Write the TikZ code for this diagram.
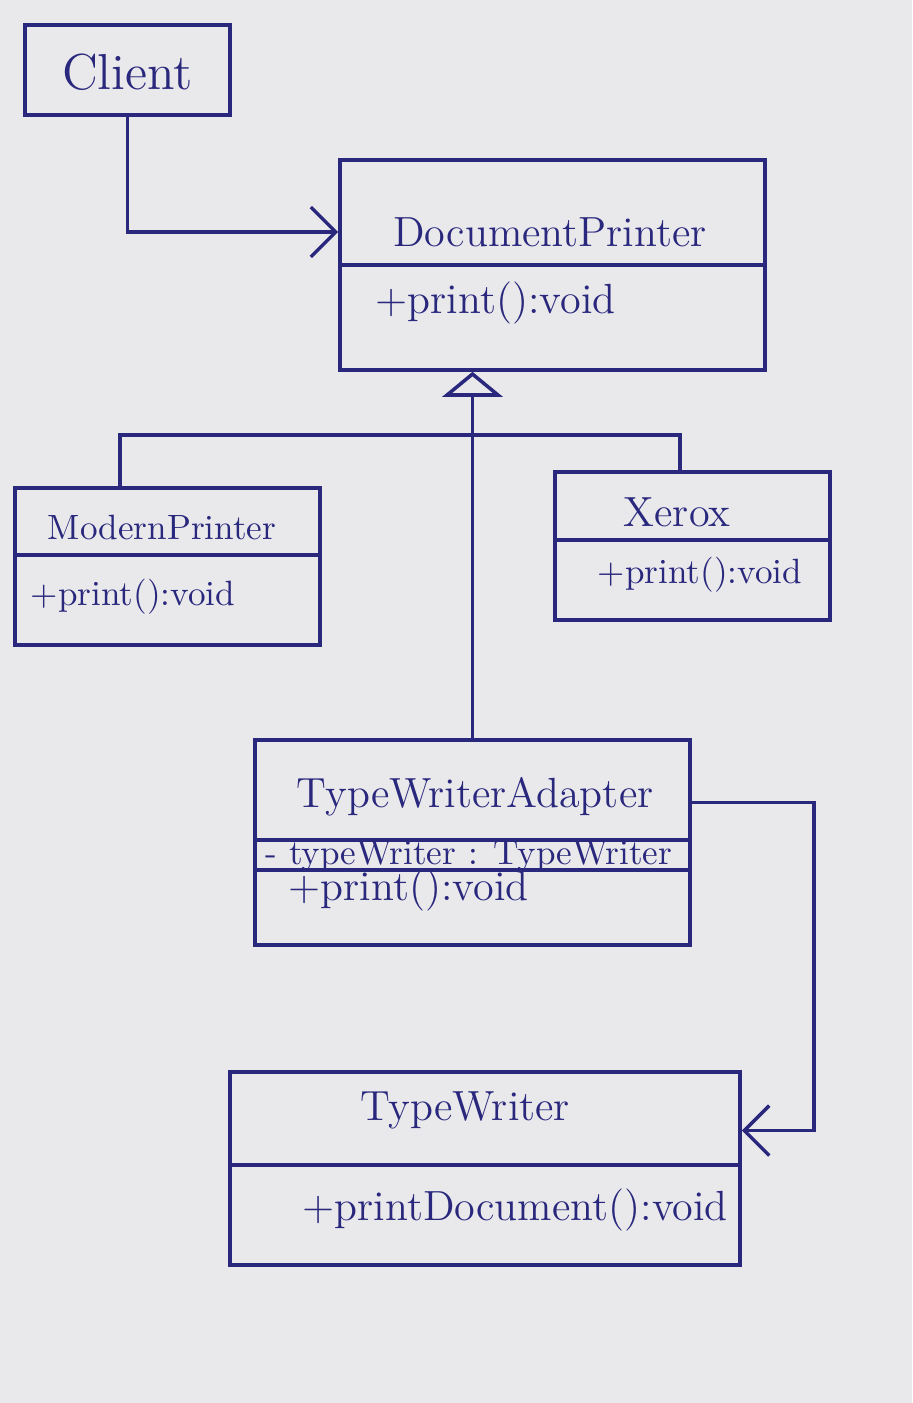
\documentclass[tikz,border=0pt]{standalone}
\usepackage{tikz}
\usetikzlibrary{arrows.meta}
\usetikzlibrary{calc}
\definecolor{ink}{RGB}{42,40,125}
\definecolor{paper}{RGB}{233,233,236}
\tikzstyle{classbox}=[draw=ink,line width=1pt,inner sep=0pt]
\tikzstyle{classname}=[text=ink,font=\large]
\tikzstyle{member}=[text=ink,font=\large,anchor=west,inner sep=0pt]
\tikzstyle{small}=[font=\normalsize]
\tikzstyle{link}=[draw=ink,line width=1pt]
\tikzstyle{edge}=[link,-{Straight Barb[length=2.5mm,width=5mm]}]
\tikzstyle{inherit}=[link,-{Triangle[open,length=2.5mm,width=6mm]}]

\begin{document}
\begin{tikzpicture}
    \fill[paper] (0,0) rectangle (9.12,-14.03);
    \useasboundingbox (0,0) rectangle (9.12,-14.03);

    % First we draw the class boxes
    \foreach \pos/\name/\w/\h in {{(1.275,-0.70)/client/2.05/0.90},{(5.525,-2.65)/docprinter/4.25/2.10},
        {(1.675,-5.665)/modern/3.05/1.57},{(6.925,-5.46)/xerox/2.75/1.48},
        {(4.725,-8.425)/adapter/4.35/2.05},{(4.85,-11.685)/typewriter/5.10/1.93}}
        \node[classbox,minimum width=\w cm,minimum height=\h cm] (\name) at \pos {};

    % class names
    \node[classname,font=\Large] (clientname) at (1.275,-0.72) {Client};
    \node[classname,small] (modernname) at (1.62,-5.27) {ModernPrinter};
    \foreach \pos/\name/\txt in {{(5.50,-2.32)/docname/DocumentPrinter},
        {(6.77,-5.12)/xeroxname/Xerox},{(4.75,-7.97)/adaptername/TypeWriterAdapter},
        {(4.65,-11.10)/typewritername/TypeWriter}}
        \node[classname] (\name) at \pos {\txt};

    % dividers
    \foreach \cls/\y in {docprinter/-2.65, modern/-5.55, xerox/-5.40, adapter/-8.40, adapter/-8.70, typewriter/-11.65}
        \draw[link] (\cls.west |- 0,\y) -- (\cls.east |- 0,\y);

    % members
    \foreach \pos/\name/\txt in {{(3.75,-3.03)/docprint/+print():void},{(2.88,-8.90)/adapterprint/+print():void},
        {(3.02,-12.10)/typewriterprint/+printDocument():void}}
        \node[member] (\name) at \pos {\txt};
    \node[member,small] (modernprint) at (0.30,-5.97) {+print():void};
    \node[member,small] (xeroxprint) at (5.97,-5.75) {+print():void};
    \node[member,small] (adapterfield) at (2.65,-8.56) {- typeWriter : TypeWriter};

    % Connect the classes
    \draw[edge] (client.south) |- (docprinter.west |- docname);
    \coordinate (split) at (adapter.north |- 0,-4.35);
    \draw[inherit] (adapter.north) -- (adapter.north |- docprinter.south);
    \draw[link] ([xshift=-0.475cm]modern.north) |- (split);
    \draw[link] ([xshift=-0.125cm]xerox.north) |- (split);
    \draw[edge] ([yshift=0.4cm]adapter.east) -- ++(1.22,0) |- ([yshift=0.38cm]typewriter.east);
\end{tikzpicture}
\end{document}
